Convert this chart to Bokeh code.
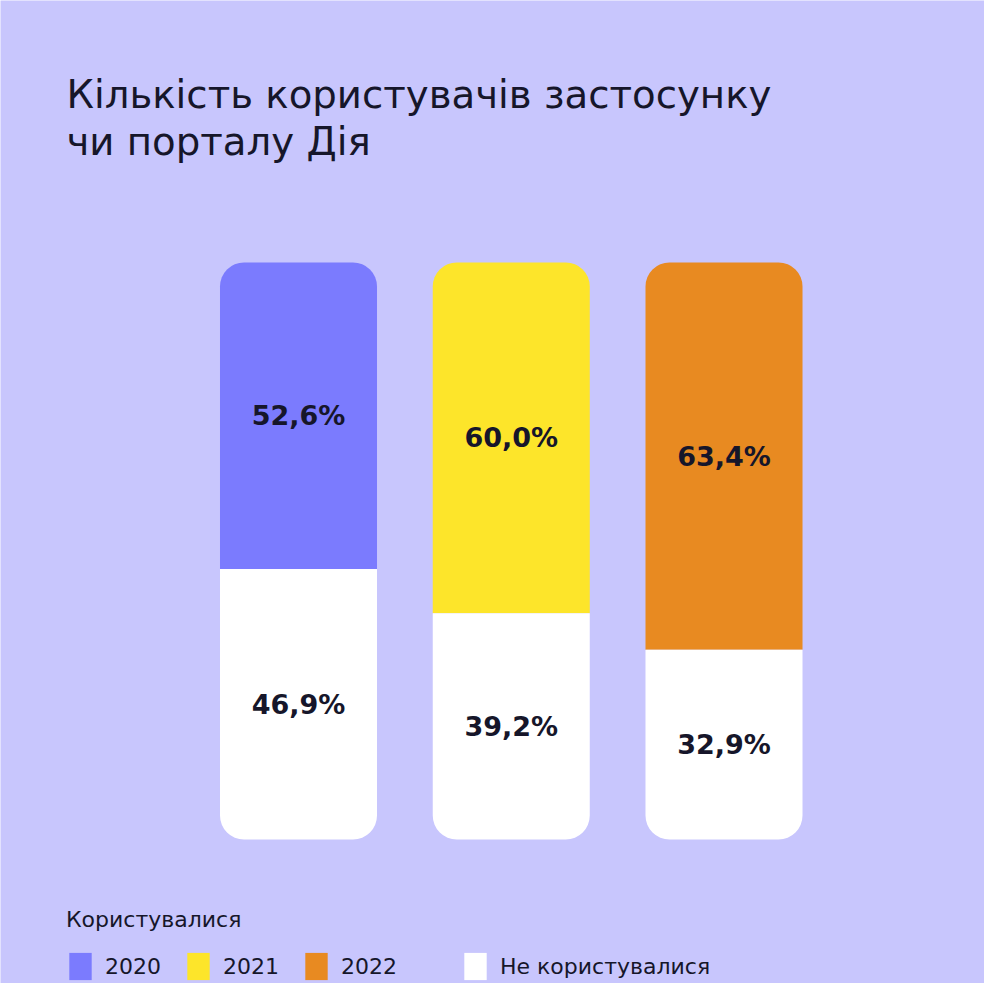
from bokeh.plotting import figure
from bokeh.models import ColumnDataSource, Range1d, Label, Legend, LegendItem
from bokeh.core.properties import value
from bokeh.embed import file_html
from bokeh.resources import INLINE

# ---- data ----
years = ["2020", "2021", "2022"]
used = [52.6, 60.0, 63.4]          # Користувалися, %
not_used = [46.9, 39.2, 32.9]      # Не користувалися, %
bar_colors = ["#7b7bfe", "#fde52a", "#e88a21"]
full_scale = 100

title_lines = ["Кількість користувачів застосунку", "чи порталу Дія"]
legend_title = "Користувалися"
not_used_label = "Не користувалися"

BG = "#c8c6fd"
INK = "#16162a"
FONT = "DejaVu Sans"

def fmt(v):
    return f"{v:.1f}".replace(".", ",") + "%"

xs = list(range(len(years)))
src = ColumnDataSource(dict(
    x=xs,
    used=used,
    nu=not_used,
    top=[full_scale] * len(years),
    color=bar_colors,
    used_lbl=[fmt(v) for v in used],
    nu_lbl=[fmt(v) for v in not_used],
    used_mid=[(n + full_scale) / 2 for n in not_used],
    nu_mid=[n / 2 for n in not_used],
))

W, H = 984, 983
p = figure(width=W, height=H,
           x_range=Range1d(-1.4007, 3.2244), y_range=Range1d(-24.96, 145.41),
           output_backend="svg", toolbar_location=None,
           x_axis_location=None, y_axis_location=None,
           min_border=0, background_fill_color=BG, border_fill_color=BG,
           outline_line_color=None)
for g in list(p.center):
    g.visible = False

bw = 0.738
r_used = p.vbar(x="x", width=bw, bottom="nu", top="top", source=src,
                fill_color="color", line_color=None, border_radius=(24, 24, 0, 0))
r_nu = p.vbar(x="x", width=bw, bottom=0, top="nu", source=src,
              fill_color="white", line_color=None, border_radius=(0, 0, 24, 24))

for ycol, tcol in (("used_mid", "used_lbl"), ("nu_mid", "nu_lbl")):
    p.text(x="x", y=ycol, text=tcol, source=src,
           text_font=value(FONT), text_font_style="bold", text_font_size="27px",
           text_color=INK, text_align="center", text_baseline="middle")

# title
for i, line in enumerate(title_lines):
    p.add_layout(Label(x=66, y=H - 94 - 47 * i, x_units="screen", y_units="screen",
                       text=line, text_font=FONT, text_font_size="38.7px",
                       text_color=INK, text_baseline="alphabetic"))

# legend
common = dict(orientation="horizontal",
              label_text_font=FONT, label_text_font_size="22px",
              label_text_color=INK, label_standoff=11,
              glyph_width=28, glyph_height=34, label_height=34,
              padding=0, margin=0,
              background_fill_alpha=0, border_line_color=None)
leg1 = Legend(items=[LegendItem(label=y, renderers=[r_used], index=i) for i, y in enumerate(years)],
              location=(66, 0), spacing=23,
              title=legend_title, title_text_font=FONT,
              title_text_font_size="22px", title_text_color=INK, title_text_font_style="normal",
              title_standoff=17, **common)
leg2 = Legend(items=[LegendItem(label=not_used_label, renderers=[r_nu], index=0)],
              location=(461, 0), **common)
p.add_layout(leg1)
p.add_layout(leg2)

open("out.html", "w").write(file_html(p, INLINE))
